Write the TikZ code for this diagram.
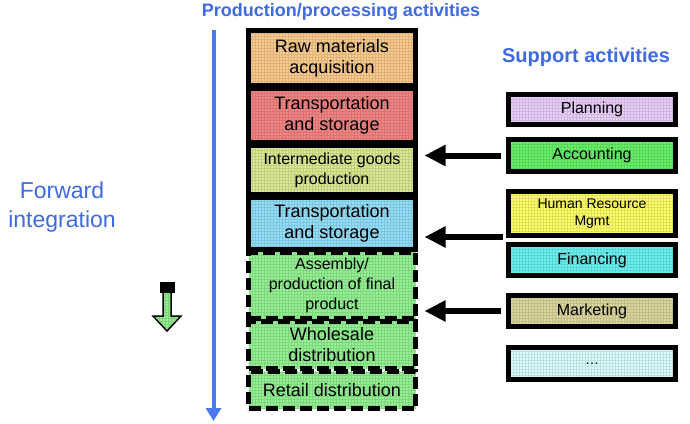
\documentclass[tikz,border=0pt]{standalone}
\usepackage{fontspec}
\setmainfont{Liberation Sans}
\usetikzlibrary{patterns,arrows.meta}
\definecolor{tblue}{HTML}{3F6AE0}
\definecolor{vblue}{HTML}{4A78F0}
\definecolor{cRaw}{HTML}{FACB8C}
\definecolor{cRed}{HTML}{F48484}
\definecolor{cInt}{HTML}{DAEA92}
\definecolor{cTr}{HTML}{92E0FA}
\definecolor{cGrn}{HTML}{94F292}
\definecolor{cPlan}{HTML}{EACFFA}
\definecolor{cAcc}{HTML}{66F266}
\definecolor{cHR}{HTML}{FFFF66}
\definecolor{cFin}{HTML}{6AF2F2}
\definecolor{cMkt}{HTML}{DCD79D}
\definecolor{cDots}{HTML}{DAFDFD}
\tikzset{
  cell/.style={draw=black, line width=5pt, align=center, inner sep=0pt, text=black, minimum width=167pt},
  tint/.style={preaction={fill=#1}, preaction={pattern=grid, pattern color=#1!88!black}},
  dbox/.style={dash pattern=on 12pt off 5pt},
  big/.style={font=\fontsize{18}{21}\selectfont},
  mid/.style={font=\fontsize{16}{20}\selectfont},
  sml/.style={font=\fontsize{14}{17}\selectfont},
  bigarrow/.style={line width=6pt, -{Triangle[length=21pt,width=20pt]}},
}
\begin{document}
\begin{tikzpicture}[x=1pt,y=-1pt]
\useasboundingbox (0,0) rectangle (690,423);
% titles
\node[text=tblue, font=\bfseries\fontsize{18}{20}\selectfont] (title) at (341,12) {Production/processing activities};
\node[text=tblue, font=\bfseries\fontsize{20}{22}\selectfont] (sup) at (586,57) {Support activities};
\node[text=tblue, font=\fontsize{23}{29}\selectfont, align=center] (fwd) at (62,207) {Forward\\integration};
% vertical blue arrow
\coordinate (vtop) at (213.5,30);
\coordinate (vbot) at (213.5,421);
\draw[vblue, line width=4pt, -{Triangle[length=13pt,width=15pt]}] (vtop) -- (vbot);
% left column
\node[cell, big, tint=cRaw, minimum height=55pt] (raw) at (332,58) {Raw materials\\acquisition};
\node[cell, big, tint=cRed, minimum height=54pt] (tr1) at (332,115.5) {Transportation\\and storage};
\node[cell, mid, tint=cInt, minimum height=49pt] (inter) at (332,170) {Intermediate goods\\production};
\node[cell, big, tint=cTr, minimum height=52pt] (tr2) at (332,223.5) {Transportation\\and storage};
\node[cell, dbox, mid, tint=cGrn, minimum height=66pt] (asm) at (332,285.5) {Assembly/\\production of final\\product};
\node[cell, dbox, big, tint=cGrn, minimum height=47pt] (whs) at (332,345) {Wholesale\\distribution};
\node[cell, dbox, big, tint=cGrn, minimum height=37pt] (ret) at (332,390) {Retail distribution};
% right column
\node[cell, mid, tint=cPlan, minimum height=30pt] (plan) at (592,109.5) {Planning};
\node[cell, mid, tint=cAcc, minimum height=32pt] (acc) at (592,155.5) {Accounting};
\node[cell, font=\fontsize{14}{17}\selectfont, tint=cHR, minimum height=44pt] (hr) at (592,213.5) {Human Resource\\Mgmt};
\node[cell, mid, tint=cFin, minimum height=31pt] (fin) at (592,260) {Financing};
\node[cell, mid, tint=cMkt, minimum height=31pt] (mkt) at (592,311) {Marketing};
\node[cell, sml, tint=cDots, minimum height=32pt] (dots) at (592,363.5) {\dots};
% connectors
\draw[bigarrow] ([xshift=-5.5pt]acc.west) -- ([xshift=6.5pt]acc.west -| inter.east);
\coordinate (hrfin) at (503,237);
\draw[bigarrow] (hrfin) -- ([xshift=6.5pt]hrfin -| tr2.east);
\draw[bigarrow] ([xshift=-5.5pt]mkt.west) -- ([xshift=6.5pt]mkt.west -| asm.east);
% small green arrow
\fill[black] (159.5,282) rectangle (174.5,293);
\draw[black, line width=1.5pt, fill=cGrn] (163,292) -- (171,292) -- (171,316) -- (181,316) -- (167,331) -- (153,316) -- (163,316) -- cycle;
\fill[pattern=grid, pattern color=cGrn!85!black] (163.8,292.8) -- (170.2,292.8) -- (170.2,316.8) -- (179,316.8) -- (167,329.5) -- (155,316.8) -- (163.8,316.8) -- cycle;
\end{tikzpicture}
\end{document}
